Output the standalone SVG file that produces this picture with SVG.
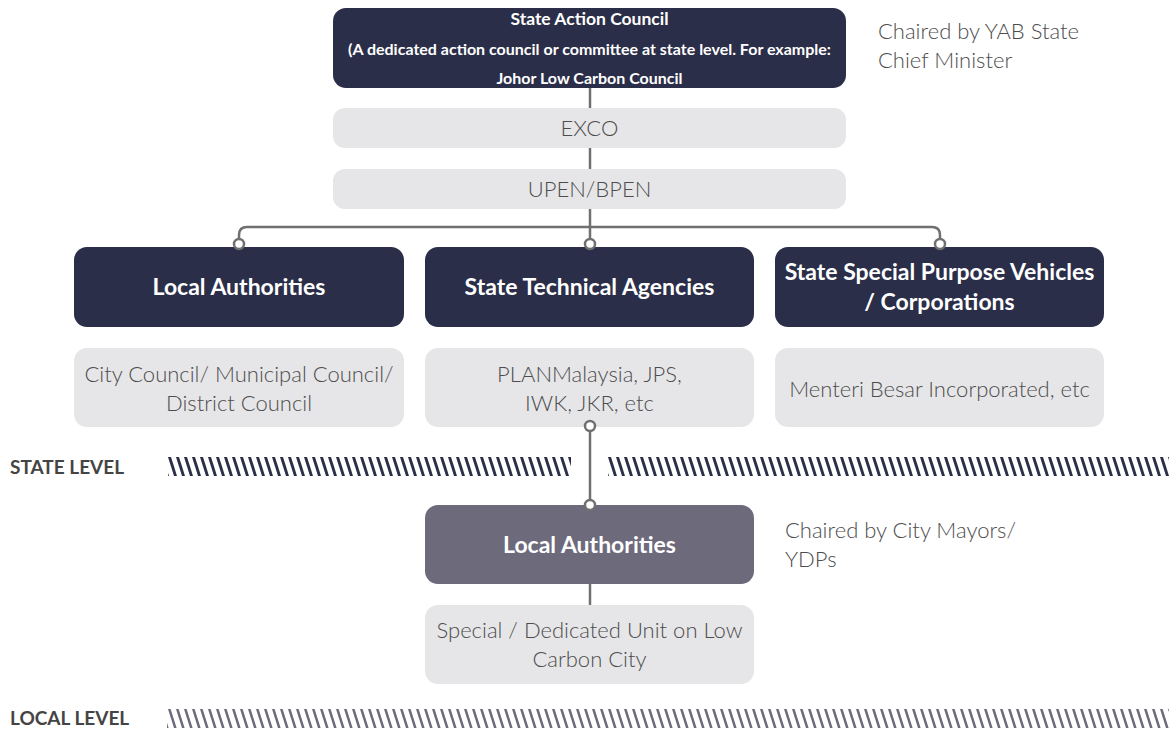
<svg xmlns="http://www.w3.org/2000/svg" width="1173" height="731" viewBox="0 0 1173 731">
<style>
.dark{fill:#2b2e48}
.purple{fill:#6d6a7c}
.grey{fill:#e6e6e8}
.hd{font-family:Lato,"Source Sans Pro","Liberation Sans",sans-serif;font-weight:700;fill:#ffffff;text-anchor:middle}
.lt{font-family:Lato,"Source Sans Pro","Liberation Sans",sans-serif;font-weight:300;fill:#4d4d4d;font-size:22px}
.mid{text-anchor:middle}
.lvl{font-family:Lato,"Liberation Sans",sans-serif;font-weight:700;fill:#444444;font-size:19px}
.con{fill:none;stroke:#707070;stroke-width:2.5}
.dot{fill:#ffffff;stroke:#707070;stroke-width:2.5}
</style>
<defs>
<pattern id="hs" patternUnits="userSpaceOnUse" x="0" y="457" width="8" height="19">
<polygon points="0,0 3,0 9,19 6,19" fill="#2b2e48"/>
<polygon points="-8,0 -5,0 1,19 -2,19" fill="#2b2e48"/>
</pattern>
<pattern id="hl" patternUnits="userSpaceOnUse" x="0" y="709" width="8" height="19">
<polygon points="0,0 2.6,0 8.6,19 6,19" fill="#6d6a7c"/>
<polygon points="-8,0 -5.4,0 0.6,19 -2,19" fill="#6d6a7c"/>
</pattern>
</defs>

<g id="connectors">
<line class="con" x1="590" y1="88" x2="590" y2="244"/>
<path class="con" d="M239,244 V235 Q239,227 247,227 H932 Q940,227 940,235 V244"/>
<line class="con" x1="590" y1="426" x2="590" y2="505"/>
<line class="con" x1="590" y1="584" x2="590" y2="605"/>
</g>

<g id="state-action-council">
<rect class="dark" x="333" y="8" width="513" height="80" rx="13"/>
<text class="hd" x="589.5" y="25" font-size="17.5">State Action Council</text>
<text class="hd" x="589.5" y="55" font-size="16">(A dedicated action council or committee at state level. For example:</text>
<text class="hd" x="589.5" y="84" font-size="16">Johor Low Carbon Council</text>
</g>

<g id="chaired-state">
<text class="lt" x="878" y="39">Chaired by YAB State</text>
<text class="lt" x="878" y="68">Chief Minister</text>
</g>

<g id="exco">
<rect class="grey" x="333" y="108" width="513" height="40" rx="12"/>
<text class="lt mid" x="589.5" y="136" font-size="21">EXCO</text>
</g>

<g id="upen">
<rect class="grey" x="333" y="169" width="513" height="40" rx="12"/>
<text class="lt mid" x="589.5" y="197" font-size="21">UPEN/BPEN</text>
</g>

<g id="local-authorities-state">
<rect class="dark" x="74" y="247" width="330" height="80" rx="13"/>
<text class="hd" x="239" y="295" font-size="23">Local Authorities</text>
</g>

<g id="state-technical-agencies">
<rect class="dark" x="425" y="247" width="329" height="80" rx="13"/>
<text class="hd" x="589.5" y="295" font-size="23">State Technical Agencies</text>
</g>

<g id="state-spv">
<rect class="dark" x="775" y="247" width="329" height="80" rx="13"/>
<text class="hd" x="939.5" y="280" font-size="23">State Special Purpose Vehicles</text>
<text class="hd" x="939.5" y="310" font-size="23">/ Corporations</text>
</g>

<g id="city-council">
<rect class="grey" x="74" y="348" width="330" height="79" rx="13"/>
<text class="lt mid" x="239" y="382">City Council/ Municipal Council/</text>
<text class="lt mid" x="239" y="411">District Council</text>
</g>

<g id="planmalaysia">
<rect class="grey" x="425" y="348" width="329" height="79" rx="13"/>
<text class="lt mid" x="589.5" y="382">PLANMalaysia, JPS,</text>
<text class="lt mid" x="589.5" y="411">IWK, JKR, etc</text>
</g>

<g id="menteri-besar">
<rect class="grey" x="775" y="348" width="329" height="79" rx="13"/>
<text class="lt mid" x="939.5" y="397">Menteri Besar Incorporated, etc</text>
</g>

<g id="connector-dots">
<circle class="dot" cx="239" cy="244" r="5"/>
<circle class="dot" cx="590" cy="244" r="5"/>
<circle class="dot" cx="940" cy="244" r="5"/>
<circle class="dot" cx="590" cy="426" r="5"/>
</g>

<g id="state-level">
<text class="lvl" x="10" y="474">STATE LEVEL</text>
<rect x="168" y="457" width="403" height="19" fill="url(#hs)"/>
<rect x="608" y="457" width="561" height="19" fill="url(#hs)"/>
</g>

<g id="local-authorities-local">
<rect class="purple" x="425" y="505" width="329" height="79" rx="13"/>
<text class="hd" x="589.5" y="553" font-size="23">Local Authorities</text>
<circle class="dot" cx="590" cy="505" r="5"/>
</g>

<g id="chaired-local">
<text class="lt" x="785" y="538">Chaired by City Mayors/</text>
<text class="lt" x="785" y="567">YDPs</text>
</g>

<g id="special-unit">
<rect class="grey" x="425" y="605" width="329" height="79" rx="13"/>
<text class="lt mid" x="589.5" y="638">Special / Dedicated Unit on Low</text>
<text class="lt mid" x="589.5" y="667">Carbon City</text>
</g>

<g id="local-level">
<text class="lvl" x="10" y="725">LOCAL LEVEL</text>
<rect x="167" y="709" width="1002" height="19" fill="url(#hl)"/>
</g>
</svg>
